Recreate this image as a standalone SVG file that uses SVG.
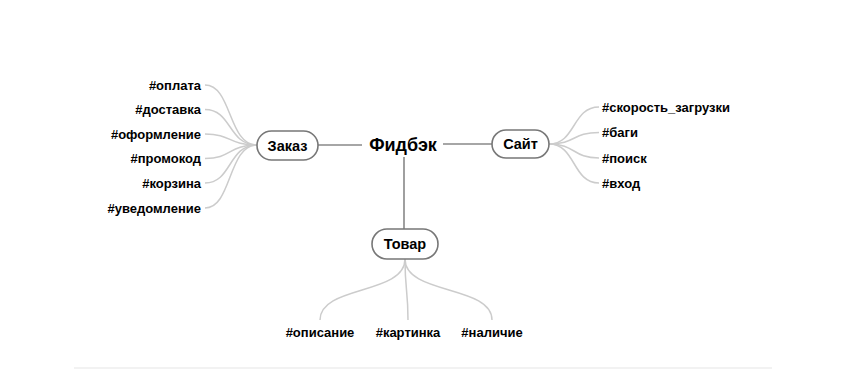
<svg xmlns="http://www.w3.org/2000/svg" width="852" height="380" viewBox="0 0 852 380">
<style>
text{font-family:"Liberation Sans",Arial,sans-serif;font-weight:bold;fill:#000}
.leaf{font-size:13px}
.mid{font-size:14.5px}
.root{font-size:18px}
.node rect{fill:#fff;stroke:#777;stroke-width:1.6}
.trunk{fill:none;stroke:#888;stroke-width:1.6}
.branch{fill:none;stroke:#ccc;stroke-width:1.5}
</style>
<rect width="852" height="380" fill="#fff"/>
<line x1="74" y1="368" x2="772" y2="368" stroke="#eee" stroke-width="1.5"/>
<g id="connectors">
<path class="trunk" d="M318,145 H362"/>
<path class="trunk" d="M443,144 H492"/>
<path class="trunk" d="M404,157 V229"/>
<path class="branch" d="M205,85 C232,85 228,145 257,145"/>
<path class="branch" d="M205,109.5 C232,109.5 228,145 257,145"/>
<path class="branch" d="M205,134 C232,134 228,145 257,145"/>
<path class="branch" d="M205,158.5 C232,158.5 228,145 257,145"/>
<path class="branch" d="M205,183 C232,183 228,145 257,145"/>
<path class="branch" d="M205,208 C232,208 228,145 257,145"/>
<path class="branch" d="M549,144 C576,144 572,107 599,107"/>
<path class="branch" d="M549,144 C576,144 572,132.5 599,132.5"/>
<path class="branch" d="M549,144 C576,144 572,158 599,158"/>
<path class="branch" d="M549,144 C576,144 572,183 599,183"/>
<path class="branch" d="M405,259 C405,295 320,285 320,320"/>
<path class="branch" d="M405,259 C405,290 408,290 408,320"/>
<path class="branch" d="M405,259 C405,295 492,285 492,320"/>
</g>
<g id="root"><text class="root" x="403" y="151" text-anchor="middle">Фидбэк</text></g>
<g id="zakaz" class="node"><rect x="257" y="131" width="61" height="29" rx="14.5"/><text class="mid" x="287.5" y="150.5" text-anchor="middle">Заказ</text></g>
<g id="sait" class="node"><rect x="492" y="130" width="57" height="28" rx="14"/><text class="mid" x="520.5" y="149" text-anchor="middle">Сайт</text></g>
<g id="tovar" class="node"><rect x="372" y="229" width="66" height="30" rx="15"/><text class="mid" x="405" y="249" text-anchor="middle">Товар</text></g>
<g id="l1"><text class="leaf" x="201" y="89.5" text-anchor="end">#оплата</text></g>
<g id="l2"><text class="leaf" x="201" y="114" text-anchor="end">#доставка</text></g>
<g id="l3"><text class="leaf" x="201" y="138.5" text-anchor="end">#оформление</text></g>
<g id="l4"><text class="leaf" x="201" y="163" text-anchor="end">#промокод</text></g>
<g id="l5"><text class="leaf" x="201" y="187.5" text-anchor="end">#корзина</text></g>
<g id="l6"><text class="leaf" x="201" y="212.5" text-anchor="end">#уведомление</text></g>
<g id="r1"><text class="leaf" x="602" y="111.5">#скорость_загрузки</text></g>
<g id="r2"><text class="leaf" x="602" y="137">#баги</text></g>
<g id="r3"><text class="leaf" x="602" y="162.5">#поиск</text></g>
<g id="r4"><text class="leaf" x="602" y="187.5">#вход</text></g>
<g id="b1"><text class="leaf" x="320" y="336.5" text-anchor="middle">#описание</text></g>
<g id="b2"><text class="leaf" x="408" y="336.5" text-anchor="middle">#картинка</text></g>
<g id="b3"><text class="leaf" x="492" y="336.5" text-anchor="middle">#наличие</text></g>
</svg>
